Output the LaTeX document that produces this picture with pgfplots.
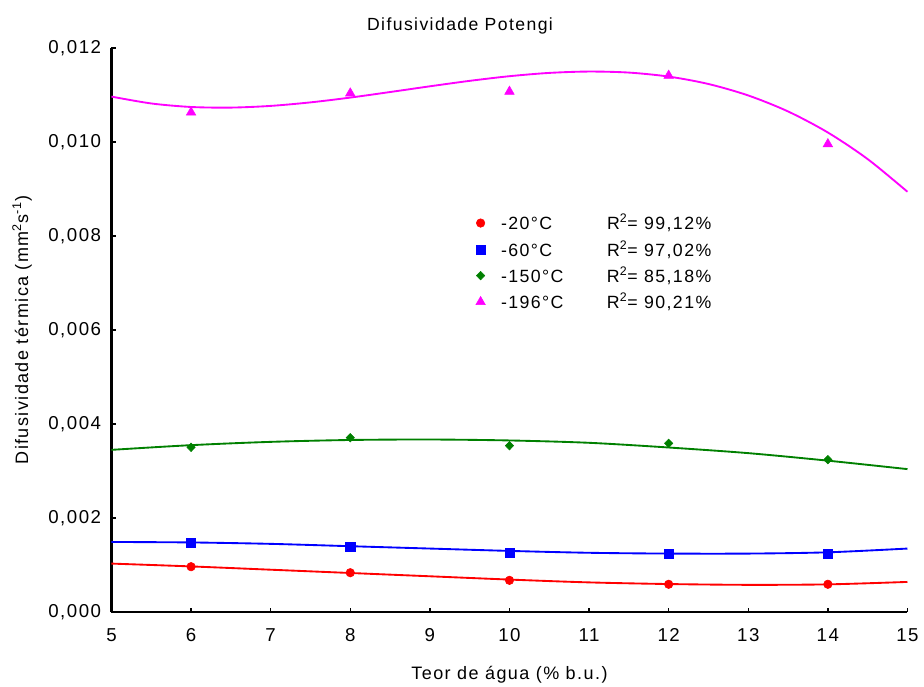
\documentclass[border=0pt]{standalone}
\usepackage{fontspec}
\setmainfont{Liberation Sans}[LetterSpace=8]
\usepackage{pgfplots}
\pgfplotsset{compat=1.18}
\definecolor{mag}{RGB}{255,0,255}
\definecolor{grn}{RGB}{0,128,0}
\begin{document}
\begin{tikzpicture}
\begin{axis}[
  scale only axis, width=597pt, height=423pt,
  xmin=5, xmax=15, ymin=0, ymax=0.012,
  axis x line*=bottom, axis y line*=left,
  axis line style={line width=1.6pt, -},
  tick style={line width=1.1pt, black},
  tick align=inside, major tick length=3.2pt,
  xtick={5,6,7,8,9,10,11,12,13,14,15},
  ytick={0,0.002,0.004,0.006,0.008,0.010,0.012},
  scaled y ticks=false,
  /pgf/number format/assume math mode=true,
  yticklabel style={xshift=-4.3pt, /pgf/number format/fixed, /pgf/number format/fixed zerofill, /pgf/number format/precision=3, /pgf/number format/use comma},
  xticklabel style={yshift=-8.8pt},
  tick label style={font=\fontsize{14}{16}\selectfont},
  xlabel={Teor de água (\% b.u.)},
  ylabel={Difusividade térmica (mm\textsuperscript{2}s\textsuperscript{-1})},
  label style={font=\fontsize{13.5}{15}\selectfont},
  xlabel style={at={(axis description cs:0.5,0)}, anchor=base, yshift=-50.5pt},
  ylabel style={at={(axis description cs:-0.1124,0.5)}, anchor=center},
  legend style={at={(axis cs:9.578,0.00852)}, anchor=north west, draw=none, fill=none,
    inner sep=0pt, outer sep=0pt, row sep=2.5pt,
    font=\fontsize{13.3}{15}\selectfont},
  legend cell align=left,
  clip=false,
]
% fitted curves
\addplot[red, line width=1.4pt, smooth, forget plot] coordinates {
(5,0.00103)(6,0.00097)(7,0.00090)(8,0.00083)(9,0.00076)(10,0.00069)(11,0.00063)(12,0.000595)(13,0.000578)(14,0.000588)(15,0.00064)};
\addplot[blue, line width=1.4pt, smooth, forget plot] coordinates {
(5,0.00149)(6,0.00148)(7,0.00145)(8,0.00140)(9,0.00135)(10,0.00130)(11,0.00126)(12,0.001243)(13,0.001243)(14,0.00127)(15,0.00135)};
\addplot[grn, line width=1.4pt, smooth, forget plot] coordinates {
(5,0.00345)(6,0.00355)(7,0.00362)(8,0.00366)(9,0.00367)(10,0.00365)(11,0.00360)(12,0.00350)(13,0.00338)(14,0.00322)(15,0.00304)};
\addplot[mag, line width=1.4pt, smooth, forget plot] coordinates {
(5,0.010966)(5.5,0.010820)(6,0.010745)(6.5,0.010732)(7,0.010768)(7.5,0.010843)(8,0.010945)(8.5,0.011063)(9,0.011185)(9.5,0.011301)(10,0.011400)(10.5,0.011470)(11,0.011499)(11.5,0.011477)(12,0.011392)(12.5,0.011234)(13,0.010990)(13.5,0.010650)(14,0.010202)(14.5,0.009636)(15,0.008941)};
% measured points
\addplot[only marks, mark=*, mark size=3.2pt, color=red] coordinates {
(6,0.000964)(8,0.000836)(10,0.000674)(12,0.000590)(14,0.000590)};
\addlegendentry{\hspace{9.75pt}\makebox[79.5pt][l]{-20°C}R\textsuperscript{2}= 99,12\%}
\addplot[only marks, mark=square*, mark size=3.4pt, color=blue] coordinates {
(6,0.001475)(8,0.001390)(10,0.001270)(12,0.001230)(14,0.001230)};
\addlegendentry{\hspace{9.75pt}\makebox[79.5pt][l]{-60°C}R\textsuperscript{2}= 97,02\%}
\addplot[only marks, mark=diamond*, mark size=3.2pt, mark options={xscale=1.3}, color=grn] coordinates {
(6,0.003504)(8,0.003709)(10,0.003539)(12,0.003589)(14,0.003241)};
\addlegendentry{\hspace{9.75pt}\makebox[79.5pt][l]{-150°C}R\textsuperscript{2}= 85,18\%}
\addplot[only marks, mark=triangle*, mark size=4.1pt, color=mag] coordinates {
(6,0.01063)(8,0.011037)(10,0.011073)(12,0.011414)(14,0.009957)};
\addlegendentry{\hspace{9.75pt}\makebox[79.5pt][l]{-196°C}R\textsuperscript{2}= 90,21\%}
\coordinate (bl) at (rel axis cs:0,0);
\coordinate (tr) at (rel axis cs:1,1);
\end{axis}
\node[font=\fontsize{13.2}{15}\selectfont, anchor=base] at ([xshift=261.4pt,yshift=435.75pt]bl) {Difusividade Potengi};
\pgfresetboundingbox
\path ([xshift=-83.6pt,yshift=-55.5pt]bl) rectangle ([xshift=12.4pt,yshift=36pt]tr);
\end{tikzpicture}
\end{document}
